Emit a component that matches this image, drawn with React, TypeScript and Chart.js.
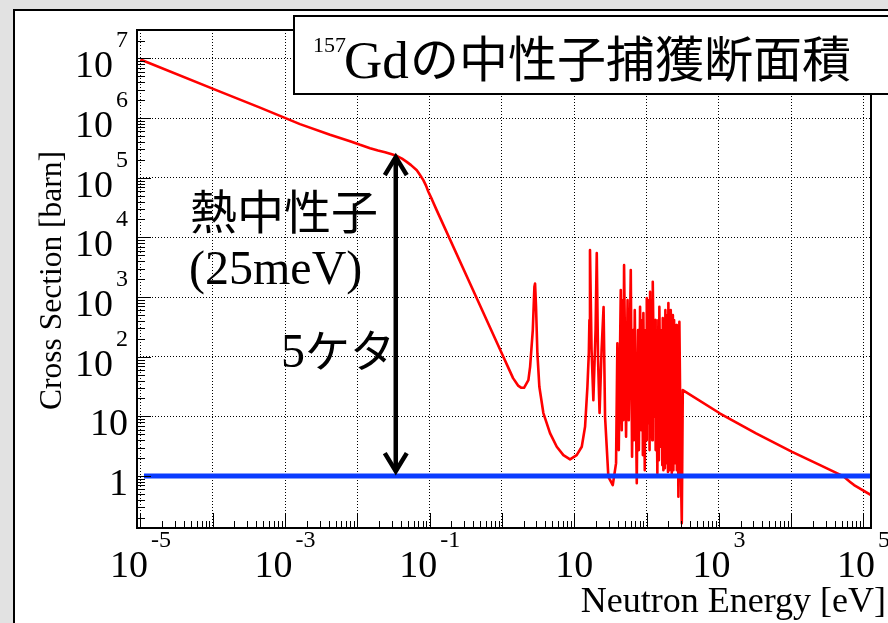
import React, { useEffect, useRef } from "react";
import { Chart, registerables } from "chart.js";

Chart.register(...registerables);

// ---- Data ----
// Neutron energy [eV]  /  capture cross section [barn], same order
const THERMAL_E = [
  1e-5, 1.26e-4, 4.51e-4, 1.61e-3, 4.19e-3, 7.93e-3, 0.0109, 0.015, 0.0193, 0.0242,
  0.0292, 0.0354, 0.0415, 0.0482, 0.0553, 0.0664, 0.0736, 0.0818, 0.0891, 0.096,
  0.108, 0.125, 0.362,
];
const THERMAL_S = [
  9.6e6, 2.78e6, 1.5e6, 7.93e5, 5.28e5, 4.11e5, 3.57e5, 3.14e5, 2.87e5, 2.69e5,
  2.51e5, 2.31e5, 2.09e5, 1.85e5, 1.63e5, 1.34e5, 1.11e5, 9.14e4, 7.39e4, 5.82e4,
  4.3e4, 2.87e4, 1695,
];
const LOWRES_E = [
  1.045, 1.214, 1.424, 1.67, 1.837, 2.02, 2.32, 2.45, 2.67, 2.81,
  2.87, 2.96, 3.09, 3.29, 3.74, 4.62, 5.73, 7.07, 8.75, 10.8,
  12.7, 14.1, 15.2, 15.9, 16.2, 16.5, 17.35, 18.37, 19.71, 20.47,
  21.34, 22.39, 23.86, 25.43, 26.67, 29.63,
];
const LOWRES_S = [
  100, 67.1, 43.9, 32.9, 30.4, 30.2, 40.6, 67.9, 280, 1487,
  1695, 688, 115, 31.4, 11.4, 5.26, 3.1, 2.25, 1.91, 2.25,
  3.1, 6.7, 31.4, 115, 411, 6130, 129, 18.8, 280, 5461,
  87.9, 11.4, 129, 680, 9.86, 0.97,
];
const FOREST_E = [
  34.08, 37.86, 39.46, 41.26, 43.98, 45.39, 46.86, 47.76, 48.84, 52.06,
  54.61, 56.74, 60.47, 63.01, 65.46, 66.73, 68.68, 73.19, 76.27, 78.25,
  81.31, 84.75, 87.21, 88.89, 90.32, 94.44, 97.47, 99.06, 100.6, 103.9,
  108.3, 110.0, 111.8, 115.4, 118.4, 119.9, 121.8, 128.2, 131.9, 133.6,
  135.3, 141.0, 145.6, 148.0, 150.3, 157.2, 162.3, 164.9, 167.5, 170.8,
  176.3, 179.1, 182.0, 190.3, 195.2, 197.7, 200.2, 206.7, 216.1, 223.1,
  231.1, 234.8, 240.1, 247.9, 257.5, 262.5, 268.5, 275.4, 284.3, 297.2,
  306.9,
];
const FOREST_S = [
  0.707, 1.65, 169, 2.73, 1310, 5.9, 890, 8.68, 3437, 4.56,
  890, 8.68, 2834, 2.11, 280, 4.01, 605, 0.763, 280, 2.73,
  688, 5.9, 412, 2.25, 539, 1.26, 280, 4.01, 962, 7.73,
  890, 2.73, 1227, 4.5, 890, 4.01, 1804, 9.86, 412, 2.73,
  280, 1.12, 412, 1.85, 688, 3.1, 280, 1.53, 444, 1.26,
  280, 1.36, 605, 1.65, 499, 1.17, 793, 1.26, 605, 1.12,
  499, 1.26, 412, 1.65, 339, 1.26, 280, 0.45, 385, 1.65,
  0.163,
];
const TAIL_E = [316.8, 1040, 3269, 1.03e4, 2.51e4, 5.22e4, 6.53e4, 7.41e4, 1.27e5];
const TAIL_S = [27.6, 11.2, 5.19, 2.55, 1.53, 1.0, 0.8, 0.707, 0.48];

// Reference line at 1 barn
const REF_ENERGY = [1.12e-5, 1.27e5];
const REF_SIGMA = [1, 1];
// Arrow (thermal neutrons, 5 orders of magnitude)
const ARROW_ENERGY = 0.034;
const ARROW_TOP_SIGMA = 2.4e5;
const ARROW_BOTTOM_SIGMA = 1.12;

// Axis ranges and ticks
const X_MIN = 8.97e-6;
const X_MAX = 1.27e5;
const Y_MIN = 0.135;
const Y_MAX = 3.0e7;
const X_GRID_EXPS = [-5, -4, -3, -2, -1, 0, 1, 2, 3, 4, 5];
const Y_GRID_EXPS = [0, 1, 2, 3, 4, 5, 6, 7];
const X_LABEL_EXPS = [-5, -3, -1, 1, 3, 5];
const Y_LABEL_EXPS = [0, 1, 2, 3, 4, 5, 6, 7];

const TITLE_SUP = "157";
const TITLE_ELEM = "Gd";
const TITLE_JP = "の中性子捕獲断面積";
const X_TITLE = "Neutron Energy [eV]";
const Y_TITLE = "Cross Section [barn]";
const NOTE1 = "熱中性子";
const NOTE2 = "(25meV)";
const NOTE3_NUM = "5";
const NOTE3_JP = "ケタ";

const SERIF = '"Liberation Serif", "Times New Roman", serif';
const CJK = '"Noto Sans CJK JP", "Noto Sans CJK SC", sans-serif';

function powParts(exp: number) {
  return exp === 0 ? { base: "1", sup: "" } : exp === 1 ? { base: "10", sup: "" } : { base: "10", sup: String(exp) };
}

const decoPlugin = {
  id: "deco",
  beforeDraw(chart: any) {
    const ctx: CanvasRenderingContext2D = chart.ctx;
    ctx.save();
    ctx.fillStyle = "#e2e2e2";
    ctx.fillRect(0, 0, chart.width, chart.height);
    ctx.fillStyle = "#ffffff";
    ctx.fillRect(14, 10, 1000, 1000);
    ctx.strokeStyle = "#000";
    ctx.lineWidth = 2;
    ctx.beginPath();
    ctx.moveTo(14, 1000);
    ctx.lineTo(14, 10);
    ctx.lineTo(1000, 10);
    ctx.stroke();
    ctx.restore();
  },
  afterDraw(chart: any) {
    const ctx: CanvasRenderingContext2D = chart.ctx;
    const xs = chart.scales.x;
    const ys = chart.scales.y;
    const a = chart.chartArea;
    ctx.save();

    // minor / major tick marks
    ctx.strokeStyle = "#000";
    ctx.lineWidth = 1;
    ctx.beginPath();
    for (let d = -6; d <= 5; d++) {
      for (let k = 1; k <= 9; k++) {
        const v = k * Math.pow(10, d);
        if (v < X_MIN || v > X_MAX) continue;
        const px = Math.round(xs.getPixelForValue(v)) + 0.5;
        const len = k === 1 ? 15 : 7;
        ctx.moveTo(px, a.bottom);
        ctx.lineTo(px, a.bottom - len);
      }
    }
    for (let d = -1; d <= 7; d++) {
      for (let k = 1; k <= 9; k++) {
        const v = k * Math.pow(10, d);
        if (v < Y_MIN || v > Y_MAX) continue;
        const py = Math.round(ys.getPixelForValue(v)) + 0.5;
        const len = k === 1 ? 14 : 8;
        ctx.moveTo(a.left, py);
        ctx.lineTo(a.left + len, py);
      }
    }
    ctx.stroke();

    // frame
    ctx.lineWidth = 2;
    ctx.strokeRect(a.left, a.top, a.right - a.left, a.bottom - a.top);

    // tick labels
    ctx.fillStyle = "#000";
    ctx.textBaseline = "alphabetic";
    const baseFont = `38px ${SERIF}`;
    const supFont = `24px ${SERIF}`;
    X_LABEL_EXPS.forEach((e) => {
      const { base, sup } = powParts(e);
      const px = xs.getPixelForValue(Math.pow(10, e));
      ctx.font = baseFont;
      const bw = ctx.measureText(base).width;
      ctx.font = supFont;
      const sw = sup ? ctx.measureText(sup).width + 3 : 0;
      const start = px - (bw + sw) / 2;
      ctx.textAlign = "left";
      ctx.font = baseFont;
      ctx.fillText(base, start, 577);
      if (sup) {
        ctx.font = supFont;
        ctx.fillText(sup, start + bw + 3, 547);
      }
    });
    Y_LABEL_EXPS.forEach((e) => {
      const { base, sup } = powParts(e);
      const py = ys.getPixelForValue(Math.pow(10, e));
      ctx.textAlign = "left";
      if (sup) {
        ctx.font = supFont;
        const sw = ctx.measureText(sup).width;
        const supLeft = 128 - sw;
        ctx.fillText(sup, supLeft, py - 11);
        ctx.font = baseFont;
        const bw = ctx.measureText(base).width;
        ctx.fillText(base, supLeft - 3 - bw, py + 19);
      } else {
        ctx.font = baseFont;
        const bw = ctx.measureText(base).width;
        ctx.fillText(base, 128 - bw, py + 19);
      }
    });

    // axis titles
    ctx.font = `36px ${SERIF}`;
    ctx.textAlign = "right";
    ctx.fillText(X_TITLE, 886, 612);
    ctx.save();
    ctx.translate(61, 151);
    ctx.rotate(-Math.PI / 2);
    ctx.font = `31.5px ${SERIF}`;
    ctx.textAlign = "right";
    ctx.fillText(Y_TITLE, 0, 0);
    ctx.restore();

    // annotations
    ctx.textAlign = "left";
    ctx.font = `47px ${CJK}`;
    ctx.fillText(NOTE1, 190, 229);
    ctx.font = `48px ${SERIF}`;
    ctx.fillText(NOTE2, 189, 284);
    ctx.fillText(NOTE3_NUM, 281, 367);
    const n3w = ctx.measureText(NOTE3_NUM).width;
    ctx.font = `45px ${CJK}`;
    ctx.fillText(NOTE3_JP, 281 + n3w, 368);

    // double-headed arrow
    const ax = xs.getPixelForValue(ARROW_ENERGY);
    const ay1 = ys.getPixelForValue(ARROW_TOP_SIGMA);
    const ay2 = ys.getPixelForValue(ARROW_BOTTOM_SIGMA);
    ctx.strokeStyle = "#000";
    ctx.lineWidth = 4.5;
    ctx.lineJoin = "miter";
    ctx.lineCap = "butt";
    ctx.beginPath();
    ctx.moveTo(ax, ay1 + 2);
    ctx.lineTo(ax, ay2 - 2);
    ctx.stroke();
    ctx.beginPath();
    ctx.moveTo(ax - 11, ay1 + 20);
    ctx.lineTo(ax, ay1 + 2);
    ctx.lineTo(ax + 11, ay1 + 20);
    ctx.moveTo(ax - 11, ay2 - 20);
    ctx.lineTo(ax, ay2 - 2);
    ctx.lineTo(ax + 11, ay2 - 20);
    ctx.stroke();

    // title box
    ctx.fillStyle = "#fff";
    ctx.fillRect(294, 16, 700, 78);
    ctx.strokeStyle = "#000";
    ctx.lineWidth = 2;
    ctx.strokeRect(294, 16, 700, 78);
    ctx.fillStyle = "#000";
    ctx.textAlign = "left";
    ctx.font = `22px ${SERIF}`;
    ctx.fillText(TITLE_SUP, 313, 52);
    ctx.font = `53px ${SERIF}`;
    ctx.fillText(TITLE_ELEM, 344, 78);
    ctx.font = `49px ${CJK}`;
    ctx.fillText(TITLE_JP, 410, 77);

    ctx.restore();
  },
};

export default function App() {
  const ref = useRef<HTMLCanvasElement>(null);
  useEffect(() => {
    const energy = [...THERMAL_E, ...LOWRES_E, ...FOREST_E, ...TAIL_E];
    const sigma = [...THERMAL_S, ...LOWRES_S, ...FOREST_S, ...TAIL_S];
    const curve = energy.map((e, i) => ({ x: e, y: sigma[i] }));
    const refLine = REF_ENERGY.map((e, i) => ({ x: e, y: REF_SIGMA[i] }));
    const gridOpts = { color: "#000", lineWidth: 1, drawTicks: false };
    const chart = new Chart(ref.current as HTMLCanvasElement, {
      type: "line",
      data: {
        datasets: [
          {
            data: refLine,
            borderColor: "#0a3cff",
            borderWidth: 5,
            pointRadius: 0,
          },
          {
            data: curve,
            borderColor: "#ff0000",
            borderWidth: 2.6,
            pointRadius: 0,
            borderJoinStyle: "round",
          },
        ],
      } as any,
      options: {
        animation: false,
        responsive: false,
        events: [],
        layout: { padding: { left: 137, top: 30, right: 17, bottom: 95 } },
        plugins: { legend: { display: false }, tooltip: { enabled: false } },
        elements: { line: { tension: 0 } },
        scales: {
          x: {
            type: "logarithmic",
            min: X_MIN,
            max: X_MAX,
            ticks: { display: false },
            grid: gridOpts,
            border: { display: false, dash: [1, 2] },
            afterBuildTicks: (s: any) => {
              s.ticks = X_GRID_EXPS.map((e) => ({ value: Math.pow(10, e) }));
            },
          },
          y: {
            type: "logarithmic",
            min: Y_MIN,
            max: Y_MAX,
            ticks: { display: false },
            grid: gridOpts,
            border: { display: false, dash: [1, 2] },
            afterBuildTicks: (s: any) => {
              s.ticks = Y_GRID_EXPS.map((e) => ({ value: Math.pow(10, e) }));
            },
          },
        },
      } as any,
      plugins: [decoPlugin],
    });
    return () => chart.destroy();
  }, []);
  return (
    <div style={{ position: "fixed", left: 0, top: 0, width: 888, height: 623, overflow: "hidden" }}>
      <canvas ref={ref} width={888} height={623} style={{ display: "block", width: 888, height: 623 }} />
    </div>
  );
}
